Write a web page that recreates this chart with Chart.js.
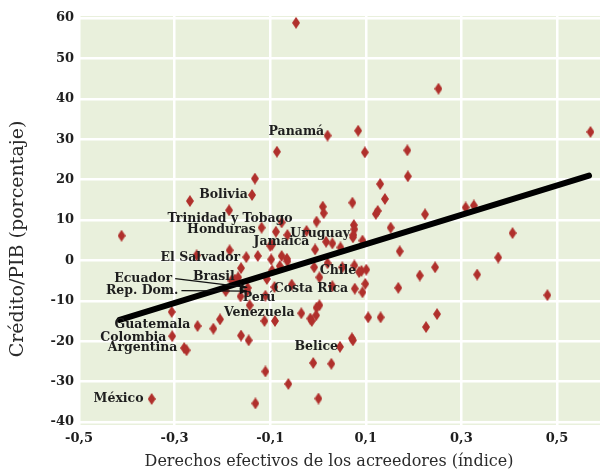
<!DOCTYPE html>
<html>
<head>
<meta charset="utf-8">
<script src="https://cdn.jsdelivr.net/npm/chart.js@4.4.1/dist/chart.umd.min.js"></script>
<style>
  html, body { margin: 0; padding: 0; background: #fff; }
  #wrap { width: 605px; height: 469px; }
</style>
</head>
<body>
<div id="wrap"><canvas id="chartCredito" width="605" height="469"></canvas></div>
<script>
// Derechos de los acreedores vs crédito/PIB
const puntosX = [
  -0.046, 0.252, 0.570, 0.020, 0.084, 0.098, 0.187, 0.188, 0.130, 0.140,
  0.072, 0.121, 0.125, 0.224, 0.309, 0.326, -0.086, -0.132, -0.138, -0.268,
  -0.186, 0.010, 0.012, -0.003, 0.075, 0.076, 0.074, 0.073, 0.152, 0.407,
  0.093, 0.017, 0.030, 0.047, 0.171, 0.377, 0.076, 0.051, 0.086, 0.091,
  0.101, 0.245, 0.213, 0.333, 0.099, 0.077, 0.093, 0.168, 0.480, 0.105,
  0.131, 0.249, 0.226, 0.071, 0.073, 0.046, 0.028, -0.411, -0.118, -0.088,
  -0.064, -0.076, -0.024, -0.100, -0.096, -0.006, -0.185, -0.254, -0.150, -0.126,
  -0.098, -0.076, -0.065, -0.064, 0.020, -0.008, 0.003, -0.161, -0.096, -0.080,
  -0.167, -0.174, -0.181, -0.107, -0.091, -0.147, -0.148, -0.162, -0.193, -0.143,
  -0.055, 0.030, 0.003, -0.003, -0.035, -0.016, -0.013, -0.004, -0.112, -0.090,
  -0.306, -0.252, -0.219, -0.205, -0.161, -0.145, -0.305, -0.280, -0.275, -0.110,
  -0.131, -0.348, -0.062, 0.001, -0.010, -0.110
];
const puntosY = [
  58.8, 42.5, 31.8, 30.9, 32.1, 26.75, 27.25, 20.8, 18.9, 15.2,
  14.3, 11.5, 12.25, 11.4, 13.1, 13.6, 26.9, 20.25, 16.2, 14.7,
  12.4, 13.3, 11.7, 9.6, 8.75, 7.7, 6.3, 5.7, 8.1, 6.75,
  4.9, 4.6, 4.2, 3.2, 2.25, 0.7, -1.25, -1.7, -2.9, -2.6,
  -2.3, -1.7, -3.75, -3.5, -5.8, -7.0, -7.9, -6.8, -8.6, -14.1,
  -14.1, -13.3, -16.5, -19.3, -19.8, -21.4, -25.6, 6.1, 8.1, 7.1,
  6.3, 9.4, 7.3, 3.6, 3.9, 2.7, 2.5, 1.25, 0.8, 1.1,
  0.25, 1.1, 0.4, -0.2, -0.7, -1.7, -4.2, -1.9, -2.5, -1.4,
  -4.2, -4.75, -5.0, -4.6, -6.6, -6.8, -7.6, -8.9, -7.6, -11.1,
  -6.0, -6.4, -11.1, -11.7, -13.1, -14.4, -15.0, -13.6, -15.0, -15.0,
  -12.75, -16.25, -16.9, -14.6, -18.6, -19.8, -18.75, -21.7, -22.25, -27.5,
  -35.4, -34.3, -30.6, -34.2, -25.4, -8.75
];

// recta de regresión (extremos)
const rectaX = [-0.415, 0.567];
const rectaY = [-14.75, 21.0];

const ticksX = [-0.5, -0.3, -0.1, 0.1, 0.3, 0.5];
const ticksY = [-40, -30, -20, -10, 0, 10, 20, 30, 40, 50, 60];

// etiquetas de países: texto, x e y donde termina el texto
const paises = ['Panamá', 'Bolivia', 'Trinidad y Tobago', 'Honduras', 'Jamaica', 'Uruguay',
  'El Salvador', 'Brasil', 'Ecuador', 'Rep. Dom.', 'Perú', 'Chile', 'Costa Rica',
  'Venezuela', 'Guatemala', 'Colombia', 'Argentina', 'Belice', 'México'];
const paisX = [0.013, -0.147, -0.053, -0.130, -0.018, 0.067, -0.163, -0.174, -0.305, -0.292,
  -0.089, 0.080, 0.063, -0.049, -0.267, -0.317, -0.294, 0.042, -0.365];
const paisY = [31.75, 16.25, 10.25, 7.5, 4.5, 6.5, 0.75, -4.0, -4.5, -7.5,
  -9.25, -2.5, -7.0, -13.0, -16.0, -19.25, -21.75, -21.5, -34.25];
// flechas: índice de la etiqueta y punto destino
const flechaDe = [8, 9];
const flechaX = [-0.148, -0.148];
const flechaY = [-6.7, -7.6];

const tituloX = 'Derechos efectivos de los acreedores (índice)';
const tituloY = 'Crédito/PIB (porcentaje)';

const SERIF = '"DejaVu Serif", "Liberation Serif", serif';

function diamante(w, h, color) {
  const c = document.createElement('canvas');
  c.width = w; c.height = h;
  const g = c.getContext('2d');
  g.fillStyle = color;
  g.beginPath();
  g.moveTo(w / 2, 0); g.lineTo(w, h / 2); g.lineTo(w / 2, h); g.lineTo(0, h / 2);
  g.closePath(); g.fill();
  return c;
}

const fondoPlugin = {
  id: 'fondo',
  beforeDraw(chart) {
    const { ctx, chartArea: a } = chart;
    ctx.save();
    ctx.fillStyle = '#e9f0dc';
    ctx.fillRect(a.left, a.top, a.right - a.left, a.bottom - a.top);
    ctx.restore();
  }
};

const etiquetasPlugin = {
  id: 'etiquetas',
  afterDatasetsDraw(chart) {
    const { ctx, scales } = chart;
    ctx.save();
    ctx.font = 'bold 12.5px ' + SERIF;
    ctx.fillStyle = '#1e1e1e';
    ctx.textAlign = 'right';
    ctx.textBaseline = 'middle';
    const fin = [];
    paises.forEach((p, i) => {
      const px = scales.x.getPixelForValue(paisX[i]);
      const py = scales.y.getPixelForValue(paisY[i]);
      ctx.fillText(p, px, py);
      fin.push([px, py]);
    });
    ctx.strokeStyle = '#111';
    ctx.fillStyle = '#111';
    ctx.lineWidth = 1.3;
    flechaDe.forEach((k, i) => {
      const x0 = fin[k][0] + 3, y0 = fin[k][1];
      const x1 = scales.x.getPixelForValue(flechaX[i]);
      const y1 = scales.y.getPixelForValue(flechaY[i]);
      const ang = Math.atan2(y1 - y0, x1 - x0);
      ctx.beginPath(); ctx.moveTo(x0, y0); ctx.lineTo(x1, y1); ctx.stroke();
      ctx.beginPath();
      ctx.moveTo(x1, y1);
      ctx.lineTo(x1 - 8 * Math.cos(ang - 0.4), y1 - 8 * Math.sin(ang - 0.4));
      ctx.lineTo(x1 - 8 * Math.cos(ang + 0.4), y1 - 8 * Math.sin(ang + 0.4));
      ctx.closePath(); ctx.fill();
    });

    // títulos de los ejes
    ctx.fillStyle = '#2a2a2a';
    ctx.font = '16px ' + SERIF;
    ctx.textAlign = 'center';
    ctx.fillText(tituloX, 329, 462);
    ctx.translate(18, 239);
    ctx.rotate(-Math.PI / 2);
    ctx.font = '19px ' + SERIF;
    ctx.fillText(tituloY, 0, 0);
    ctx.restore();
  }
};

const ctx = document.getElementById('chartCredito').getContext('2d');
new Chart(ctx, {
  type: 'scatter',
  data: {
    datasets: [
      {
        type: 'scatter',
        data: puntosX.map((x, i) => ({ x, y: puntosY[i] })),
        pointStyle: diamante(8, 12, '#b0302c'),
        order: 1
      },
      {
        type: 'line',
        data: rectaX.map((x, i) => ({ x, y: rectaY[i] })),
        borderColor: '#000',
        borderWidth: 6,
        borderCapStyle: 'round',
        pointRadius: 0,
        order: 0
      }
    ]
  },
  options: {
    responsive: false,
    animation: false,
    layout: { padding: { top: 16, right: 1, left: 0, bottom: 0 } },
    plugins: { legend: { display: false }, tooltip: { enabled: false } },
    scales: {
      x: {
        type: 'linear',
        min: -0.5, max: 0.59,
        afterBuildTicks: s => { s.ticks = ticksX.map(v => ({ value: v })); },
        afterFit: s => { s.height = 44; },
        grid: { color: '#fff', lineWidth: 2.5, drawTicks: false },
        border: { display: false },
        ticks: {
          padding: 6, color: '#1e1e1e',
          font: { family: SERIF, size: 13, weight: 'bold' },
          callback: v => v.toFixed(1).replace('.', ',')
        }
      },
      y: {
        type: 'linear',
        min: -40.75, max: 60.5,
        afterBuildTicks: s => { s.ticks = ticksY.map(v => ({ value: v })); },
        afterFit: s => { s.width = 79; },
        grid: { color: '#fff', lineWidth: 2.5, drawTicks: false },
        border: { display: false },
        ticks: {
          padding: 5, color: '#1e1e1e',
          font: { family: SERIF, size: 13, weight: 'bold' }
        }
      }
    }
  },
  plugins: [fondoPlugin, etiquetasPlugin]
});
</script>
</body>
</html>
